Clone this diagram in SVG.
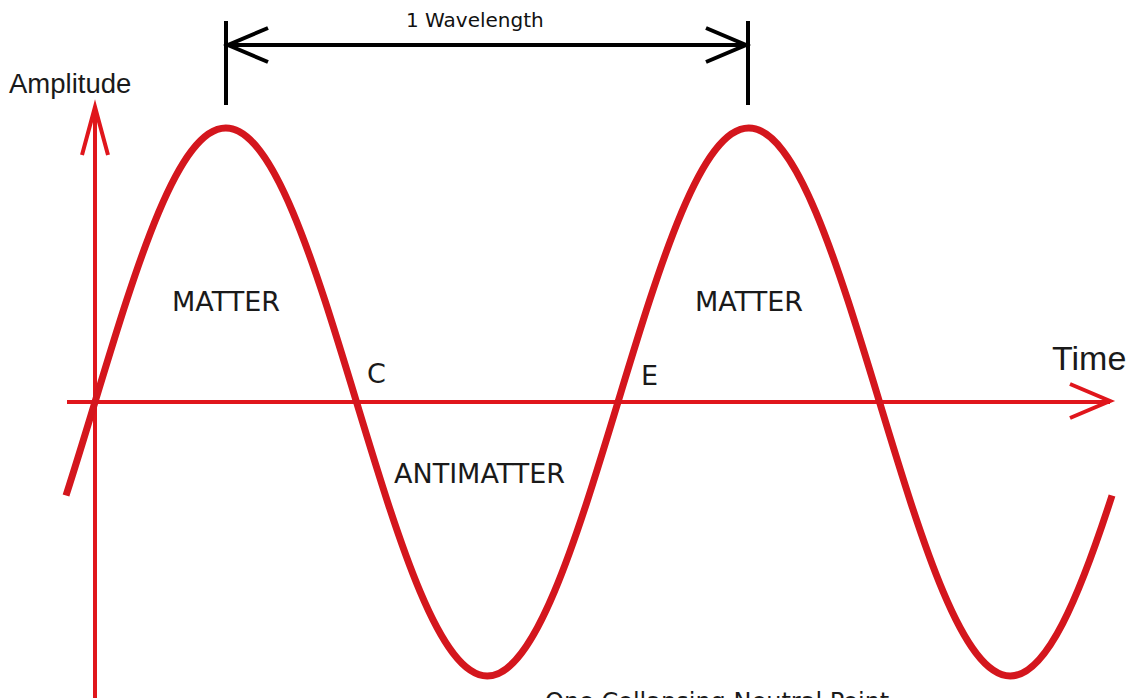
<svg xmlns="http://www.w3.org/2000/svg" width="1131" height="698" viewBox="0 0 1131 698">
  <style>
    .axis { stroke: #e0161c; stroke-width: 4; fill: none; stroke-linecap: butt; }
    .wave { stroke: #d4161d; stroke-width: 7; fill: none; stroke-linejoin: round; }
    .dim { stroke: #000; stroke-width: 4; fill: none; }
    .lbl { font-family: "DejaVu Sans", Verdana, sans-serif; font-size: 27px; fill: #1a1a1a; }
    .arial { font-family: "Liberation Sans", Arial, sans-serif; fill: #1a1a1a; }
  </style>
  <rect width="1131" height="698" fill="#ffffff"/>
  <g id="axes">
    <line class="axis" x1="95" y1="107" x2="95" y2="698"/>
    <polyline class="axis" points="82,155 95,107 108,155"/>
    <line class="axis" x1="67" y1="402" x2="1110" y2="402" stroke-width="5"/>
    <polyline class="axis" points="1070,384 1110,401 1070,418" stroke-width="5"/>
  </g>
  <g id="wave">
    <path class="wave" d="M 66.02,495.47 C 75.65,465.67 85.28,434.01 95,402 C 137.64,261.6 178.43,128 225.75,128 C 273.07,128 313.86,261.6 356.5,402 C 399.14,542.4 439.93,676 487.25,676 C 534.57,676 575.36,542.4 618,402 C 660.64,261.6 701.43,128 748.75,128 C 796.07,128 836.86,261.6 879.5,402 C 922.14,542.4 962.93,676 1010.25,676 C 1046.78,676 1079.42,596.38 1112.02,495.47"/>
  </g>
  <g id="wavelength">
    <line class="dim" x1="226" y1="21" x2="226" y2="105"/>
    <line class="dim" x1="748" y1="21" x2="748" y2="105"/>
    <line class="dim" x1="226" y1="45" x2="748" y2="45"/>
    <polyline class="dim" points="268,28 228,45 268,62"/>
    <polyline class="dim" points="706,28 746,45 706,62"/>
    <text class="lbl" x="406" y="27" style="font-size:20px;fill:#111">1 Wavelength</text>
  </g>
  <g id="labels">
    <text class="arial" x="9" y="93" font-size="27.5">Amplitude</text>
    <text class="arial" x="1052" y="370" font-size="34">Time</text>
    <text class="lbl" x="172" y="311">MATTER</text>
    <text class="lbl" x="695" y="311">MATTER</text>
    <text class="lbl" x="367" y="383">C</text>
    <text class="lbl" x="641" y="385">E</text>
    <text class="lbl" x="394" y="483">ANTIMATTER</text>
    <text class="lbl" x="545" y="710" style="font-size:24px">One Collapsing Neutral Point</text>
  </g>
</svg>
